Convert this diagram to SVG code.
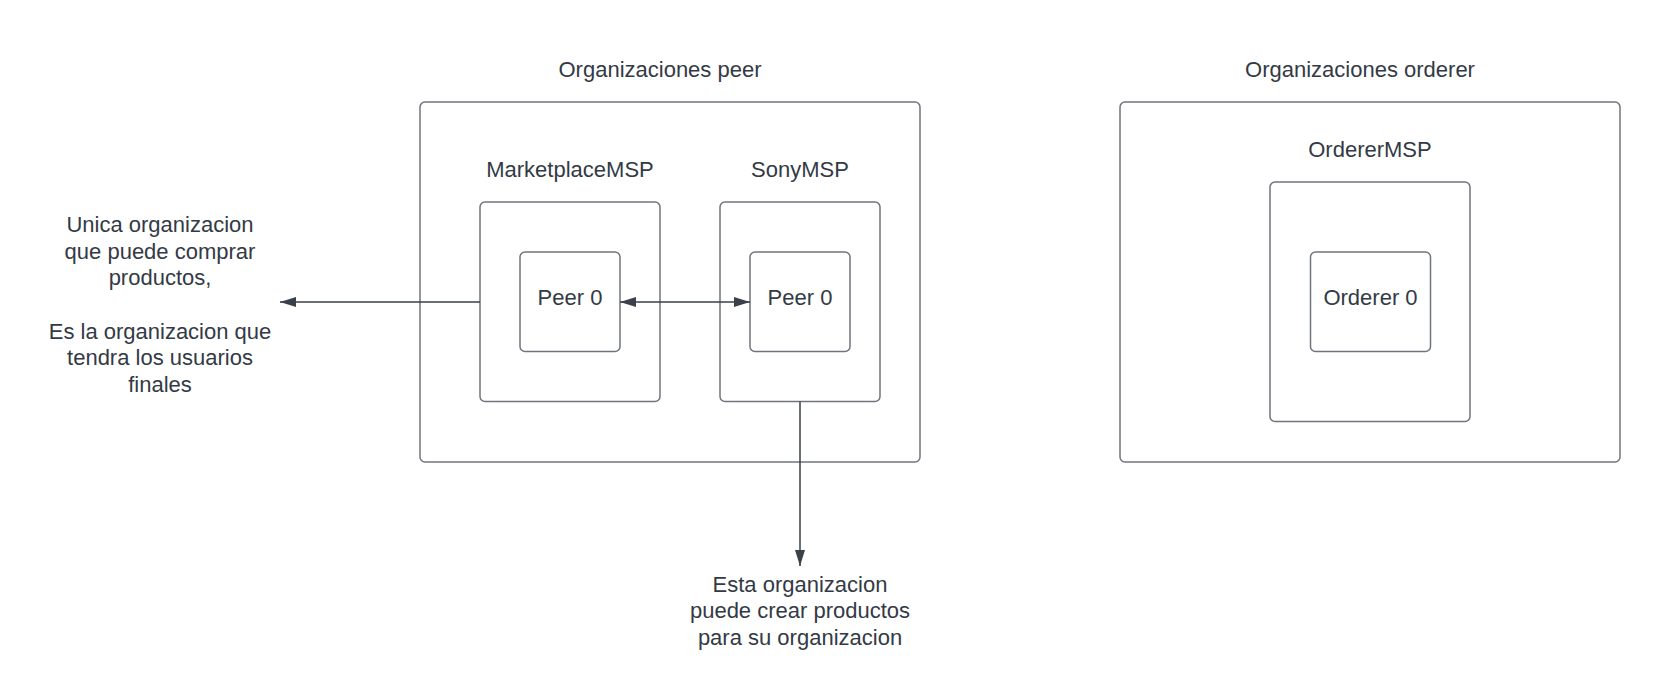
<svg xmlns="http://www.w3.org/2000/svg" width="1660" height="697" viewBox="0 0 1660 697">
<style>
.box{fill:#ffffff;stroke:#70747b;stroke-width:1.5}
.t{font-family:"Liberation Sans",Arial,sans-serif;font-size:22px;fill:#333a45;text-anchor:middle}
.c{stroke:#3a414a;stroke-width:1.5;fill:none}
</style>
<defs>
<marker id="ah" markerUnits="userSpaceOnUse" markerWidth="17" markerHeight="11" refX="16" refY="5" orient="auto-start-reverse" viewBox="0 0 17 11">
<path d="M0,0 L16,5 L0,10 Z" fill="#3a414a"/>
</marker>
</defs>
<rect width="1660" height="697" fill="#ffffff"/>
<g id="peer-org">
<rect class="box" x="420" y="102" width="500" height="360" rx="5"/>
<text class="t" x="660" y="77">Organizaciones peer</text>
</g>
<g id="marketplace-msp">
<rect class="box" x="480" y="202" width="180" height="199.5" rx="5"/>
<text class="t" x="570" y="177">MarketplaceMSP</text>
</g>
<g id="marketplace-peer0">
<rect class="box" x="520" y="252" width="100" height="99.5" rx="5"/>
<text class="t" x="570" y="305">Peer 0</text>
</g>
<g id="sony-msp">
<rect class="box" x="720" y="202" width="160" height="199.5" rx="5"/>
<text class="t" x="800" y="177">SonyMSP</text>
</g>
<g id="sony-peer0">
<rect class="box" x="750" y="252" width="100" height="99.5" rx="5"/>
<text class="t" x="800" y="305">Peer 0</text>
</g>
<g id="orderer-org">
<rect class="box" x="1120" y="102" width="500" height="360" rx="5"/>
<text class="t" x="1360" y="77">Organizaciones orderer</text>
</g>
<g id="orderer-msp">
<rect class="box" x="1270" y="182" width="200" height="239.5" rx="5"/>
<text class="t" x="1370" y="157">OrdererMSP</text>
</g>
<g id="orderer0">
<rect class="box" x="1310.5" y="252" width="120" height="99.5" rx="5"/>
<text class="t" x="1370.5" y="305">Orderer 0</text>
</g>
<g id="note-marketplace">
<text class="t" x="160" y="232">Unica organizacion</text>
<text class="t" x="160" y="258.7">que puede comprar</text>
<text class="t" x="160" y="285.3">productos,</text>
<text class="t" x="160" y="338.7">Es la organizacion que</text>
<text class="t" x="160" y="365.3">tendra los usuarios</text>
<text class="t" x="160" y="392">finales</text>
</g>
<g id="note-sony">
<text class="t" x="800" y="591.5">Esta organizacion</text>
<text class="t" x="800" y="618.2">puede crear productos</text>
<text class="t" x="800" y="644.8">para su organizacion</text>
</g>
<g id="connectors">
<line class="c" x1="480" y1="302" x2="280" y2="302" marker-end="url(#ah)"/>
<line class="c" x1="620" y1="302" x2="750" y2="302" marker-start="url(#ah)" marker-end="url(#ah)"/>
<line class="c" x1="800" y1="401.5" x2="800" y2="566" marker-end="url(#ah)"/>
</g>
</svg>
